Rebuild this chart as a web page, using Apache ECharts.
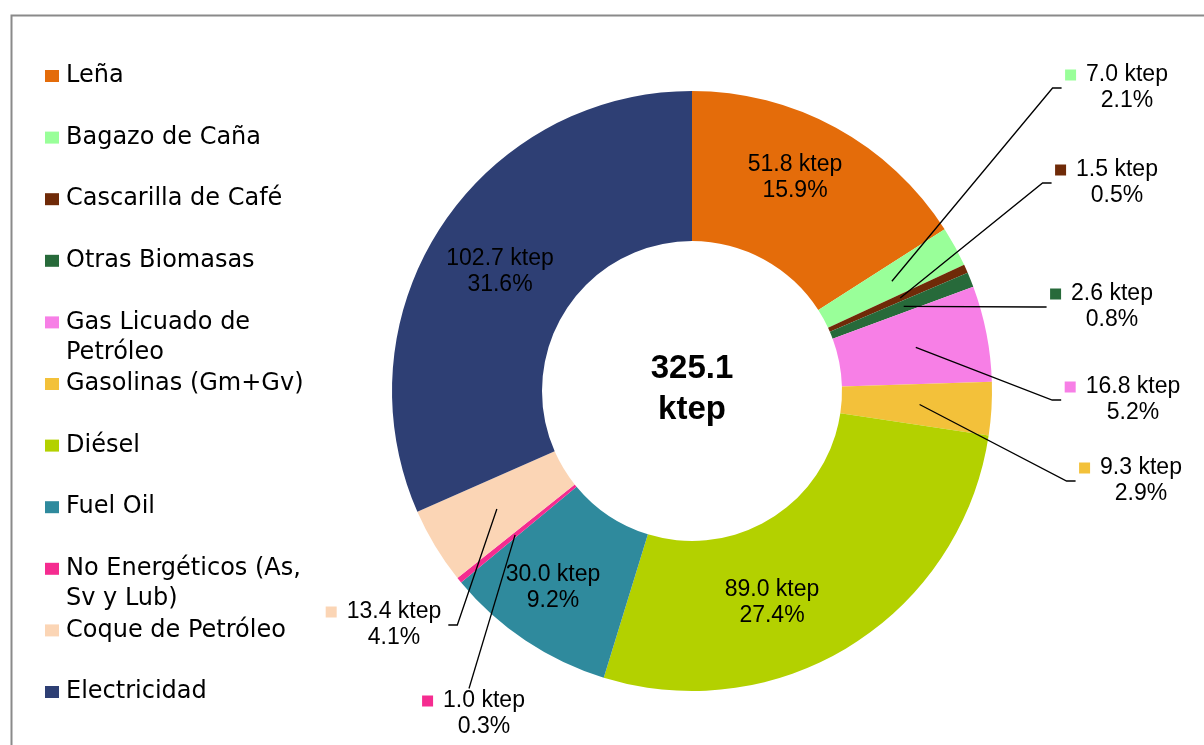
<!DOCTYPE html>
<html>
<head>
<meta charset="utf-8">
<script src="https://cdn.jsdelivr.net/npm/echarts@6/dist/echarts.min.js"></script>
<style>
html,body{margin:0;padding:0;background:#fff;}
#chart{width:1204px;height:745px;}
</style>
</head>
<body>
<div id="chart"></div>
<script>
// ---- data ----
const categories = ['Leña','Bagazo de Caña','Cascarilla de Café','Otras Biomasas','Gas Licuado de Petróleo','Gasolinas (Gm+Gv)','Diésel','Fuel Oil','No Energéticos (As, Sv y Lub)','Coque de Petróleo','Electricidad'];
const values = [51.8, 7.0, 1.5, 2.6, 16.8, 9.3, 89.0, 30.0, 1.0, 13.4, 102.7];
const percents = [15.9, 2.1, 0.5, 0.8, 5.2, 2.9, 27.4, 9.2, 0.3, 4.1, 31.6];
const unit = 'ktep';
const legendLabels = ['Leña','Bagazo de Caña','Cascarilla de Café','Otras Biomasas','Gas Licuado de\nPetróleo','Gasolinas (Gm+Gv)','Diésel','Fuel Oil','No Energéticos (As,\nSv y Lub)','Coque de Petróleo','Electricidad'];

// ---- style / layout ----
const colors = ['#E46C0A','#99FF99','#6F2A08','#276A3A','#F77FE6','#F3C13A','#B3D100','#2F8A9D','#F52C90','#FBD5B5','#2E3F74'];
const CX = 692, CY = 391, R0 = 150, R1 = 300, RL = 228;
// label placement: side + anchor (text centre x, block centre y)
const labelSide = ['in','right','right','right','right','right','in','in','below','left','in'];
const labelAnchor = [[795,178],[1127,88],[1117,183],[1112,307],[1133,400],[1141,481],[772,603],[553,588],[484,714],[394,625],[500,272]];
const SQ = 11, GAP = 10, SP = SQ + GAP;
const labelFont = 'Liberation Sans, Arial, sans-serif';

const total = values.reduce((a, b) => a + b, 0);
const cum = [];
values.reduce((acc, v, i) => { cum[i] = acc; return acc + v; }, 0);
function midAngle(i) { return (cum[i] + values[i] / 2) / total * 2 * Math.PI; }

// sectors (drawn below)
const sectorData = values.map((v, i) => ({ name: categories[i], value: v, itemStyle: { color: colors[i] } }));

// labels + leader lines (transparent copy drawn above)
const labelData = values.map((v, i) => {
  const outside = labelSide[i] !== 'in';
  return {
    name: categories[i],
    value: v,
    itemStyle: { color: 'rgba(0,0,0,0)' },
    label: {
      position: outside ? 'outside' : 'inside',
      formatter: outside
        ? '{sq|}{g|}{v|' + v.toFixed(1) + ' ' + unit + '}{sp|}\n{v|' + percents[i].toFixed(1) + '%}'
        : '{v|' + v.toFixed(1) + ' ' + unit + '}\n{v|' + percents[i].toFixed(1) + '%}',
      rich: {
        sq: { width: SQ, height: SQ, backgroundColor: colors[i] },
        g: { width: GAP },
        sp: { width: SP },
        v: { fontSize: 23, lineHeight: 26, color: '#000', fontFamily: labelFont }
      }
    },
    labelLine: { show: outside }
  };
});

const legends = categories.map((name, i) => {
  const multi = legendLabels[i].indexOf('\n') >= 0;
  const rowCenter = 76 + i * 61.6;
  return {
    data: [name],
    left: 45,
    top: multi ? rowCenter - 45 : rowCenter - 15,
    padding: 0,
    icon: 'rect',
    itemWidth: 14,
    itemHeight: 12,
    selectedMode: false,
    formatter: () => multi ? '\n' + legendLabels[i] : legendLabels[i],
    textStyle: { fontSize: 24, lineHeight: 30, color: '#000', fontFamily: 'DejaVu Sans, sans-serif', padding: [0, 0, 0, 2] }
  };
});

const chart = echarts.init(document.getElementById('chart'), null, { renderer: 'canvas' });
chart.setOption({
  animation: false,
  backgroundColor: '#fff',
  legend: legends,
  graphic: [
    { type: 'rect', left: 9, top: 13, shape: { width: 1300, height: 900 }, style: { fill: 'none', stroke: '#8A8A8A', lineWidth: 2 }, silent: true },
    { type: 'text', x: CX, y: CY - 2, style: { text: total.toFixed(1) + '\n' + unit, align: 'center', verticalAlign: 'middle', font: 'bold 33px Liberation Sans, Arial, sans-serif', lineHeight: 41, fill: '#000' }, silent: true }
  ],
  series: [{
    type: 'pie',
    z: 2,
    center: [CX, CY],
    radius: [R0, R1],
    startAngle: 90,
    clockwise: true,
    emphasis: { disabled: true },
    label: { show: false },
    labelLine: { show: false },
    data: sectorData
  }, {
    type: 'pie',
    z: 4,
    silent: true,
    center: [CX, CY],
    radius: [R0, R1],
    startAngle: 90,
    clockwise: true,
    avoidLabelOverlap: false,
    emphasis: { disabled: true },
    label: { show: true, fontFamily: labelFont, fontSize: 23, color: '#000' },
    labelLine: { show: true, showAbove: true, smooth: false, length: 10, length2: 10, lineStyle: { color: '#000', width: 1.3 } },
    labelLayout: function (params) {
      const i = params.dataIndex;
      const a = labelAnchor[i];
      const side = labelSide[i];
      if (side === 'in') return { x: a[0], y: a[1], align: 'center', verticalAlign: 'middle' };
      const w = params.labelRect.width, h = params.labelRect.height;
      const ang = midAngle(i);
      const p0 = [CX + RL * Math.sin(ang), CY - RL * Math.cos(ang)];
      let p1, p2;
      if (side === 'right') {
        p2 = [a[0] - w / 2 - 14, a[1]];
        p1 = [p2[0] - 9, a[1]];
      } else if (side === 'left') {
        p2 = [a[0] + w / 2 - SP + 7, a[1]];
        p1 = [p2[0] + 9, a[1]];
      } else {
        p2 = [a[0] - 15, a[1] - h / 2 - 1];
        p1 = p2.slice();
      }
      return { x: a[0], y: a[1], align: 'center', verticalAlign: 'middle', labelLinePoints: [p0, p1, p2] };
    },
    data: labelData
  }]
});
</script>
</body>
</html>
